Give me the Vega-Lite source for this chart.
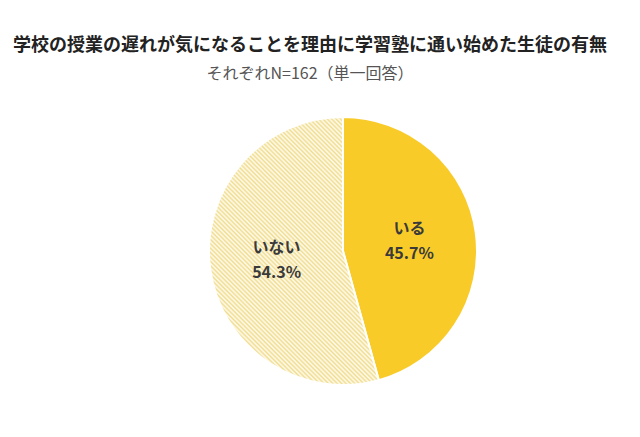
{
  "$schema": "https://vega.github.io/schema/vega-lite/v6.json",
  "autosize": {"type": "none"},
  "width": 594,
  "height": 268,
  "padding": {"left": 46, "top": 117, "right": 0, "bottom": 52},
  "background": "white",
  "config": {"view": {"stroke": null}, "font": "Noto Sans CJK JP"},
  "title": {
    "text": "学校の授業の遅れが気になることを理由に学習塾に通い始めた生徒の有無",
    "subtitle": "それぞれN=162（単一回答）",
    "anchor": "middle",
    "dx": -33,
    "offset": 31,
    "font": "Noto Sans CJK JP",
    "fontSize": 18,
    "fontWeight": "bold",
    "color": "#222222",
    "subtitleFont": "Noto Sans CJK JP",
    "subtitleFontSize": 16,
    "subtitleFontWeight": "normal",
    "subtitleColor": "#555555",
    "subtitlePadding": 11
  },
  "data": {
    "values": [
      {"cat": "いる", "value": 0.457},
      {"cat": "いない", "value": 0.543}
    ]
  },
  "encoding": {
    "theta": {"field": "value", "type": "quantitative", "stack": true},
    "order": {"field": "value", "type": "quantitative", "sort": "ascending"}
  },
  "layer": [
    {
      "mark": {"type": "arc", "outerRadius": 134, "stroke": "white", "strokeWidth": 2},
      "encoding": {
        "fill": {
          "condition": {"test": "datum.cat === 'いる'", "value": "#F9CB29"},
          "value": {
            "gradient": "linear",
            "x1": 0, "y1": 1, "x2": 0.74, "y2": -0.17,
            "stops": [
{"offset":0,"color":"#FFFCF0"},{"offset":0.005,"color":"#F0DC8E"},{"offset":0.01,"color":"#FFFCF0"},{"offset":0.015,"color":"#F0DC8E"},{"offset":0.02,"color":"#FFFCF0"},{"offset":0.025,"color":"#F0DC8E"},{"offset":0.03,"color":"#FFFCF0"},{"offset":0.035,"color":"#F0DC8E"},{"offset":0.04,"color":"#FFFCF0"},{"offset":0.045,"color":"#F0DC8E"},
{"offset":0.05,"color":"#FFFCF0"},{"offset":0.055,"color":"#F0DC8E"},{"offset":0.06,"color":"#FFFCF0"},{"offset":0.065,"color":"#F0DC8E"},{"offset":0.07,"color":"#FFFCF0"},{"offset":0.075,"color":"#F0DC8E"},{"offset":0.08,"color":"#FFFCF0"},{"offset":0.085,"color":"#F0DC8E"},{"offset":0.09,"color":"#FFFCF0"},{"offset":0.095,"color":"#F0DC8E"},
{"offset":0.1,"color":"#FFFCF0"},{"offset":0.105,"color":"#F0DC8E"},{"offset":0.11,"color":"#FFFCF0"},{"offset":0.115,"color":"#F0DC8E"},{"offset":0.12,"color":"#FFFCF0"},{"offset":0.125,"color":"#F0DC8E"},{"offset":0.13,"color":"#FFFCF0"},{"offset":0.135,"color":"#F0DC8E"},{"offset":0.14,"color":"#FFFCF0"},{"offset":0.145,"color":"#F0DC8E"},
{"offset":0.15,"color":"#FFFCF0"},{"offset":0.155,"color":"#F0DC8E"},{"offset":0.16,"color":"#FFFCF0"},{"offset":0.165,"color":"#F0DC8E"},{"offset":0.17,"color":"#FFFCF0"},{"offset":0.175,"color":"#F0DC8E"},{"offset":0.18,"color":"#FFFCF0"},{"offset":0.185,"color":"#F0DC8E"},{"offset":0.19,"color":"#FFFCF0"},{"offset":0.195,"color":"#F0DC8E"},
{"offset":0.2,"color":"#FFFCF0"},{"offset":0.205,"color":"#F0DC8E"},{"offset":0.21,"color":"#FFFCF0"},{"offset":0.215,"color":"#F0DC8E"},{"offset":0.22,"color":"#FFFCF0"},{"offset":0.225,"color":"#F0DC8E"},{"offset":0.23,"color":"#FFFCF0"},{"offset":0.235,"color":"#F0DC8E"},{"offset":0.24,"color":"#FFFCF0"},{"offset":0.245,"color":"#F0DC8E"},
{"offset":0.25,"color":"#FFFCF0"},{"offset":0.255,"color":"#F0DC8E"},{"offset":0.26,"color":"#FFFCF0"},{"offset":0.265,"color":"#F0DC8E"},{"offset":0.27,"color":"#FFFCF0"},{"offset":0.275,"color":"#F0DC8E"},{"offset":0.28,"color":"#FFFCF0"},{"offset":0.285,"color":"#F0DC8E"},{"offset":0.29,"color":"#FFFCF0"},{"offset":0.295,"color":"#F0DC8E"},
{"offset":0.3,"color":"#FFFCF0"},{"offset":0.305,"color":"#F0DC8E"},{"offset":0.31,"color":"#FFFCF0"},{"offset":0.315,"color":"#F0DC8E"},{"offset":0.32,"color":"#FFFCF0"},{"offset":0.325,"color":"#F0DC8E"},{"offset":0.33,"color":"#FFFCF0"},{"offset":0.335,"color":"#F0DC8E"},{"offset":0.34,"color":"#FFFCF0"},{"offset":0.345,"color":"#F0DC8E"},
{"offset":0.35,"color":"#FFFCF0"},{"offset":0.355,"color":"#F0DC8E"},{"offset":0.36,"color":"#FFFCF0"},{"offset":0.365,"color":"#F0DC8E"},{"offset":0.37,"color":"#FFFCF0"},{"offset":0.375,"color":"#F0DC8E"},{"offset":0.38,"color":"#FFFCF0"},{"offset":0.385,"color":"#F0DC8E"},{"offset":0.39,"color":"#FFFCF0"},{"offset":0.395,"color":"#F0DC8E"},
{"offset":0.4,"color":"#FFFCF0"},{"offset":0.405,"color":"#F0DC8E"},{"offset":0.41,"color":"#FFFCF0"},{"offset":0.415,"color":"#F0DC8E"},{"offset":0.42,"color":"#FFFCF0"},{"offset":0.425,"color":"#F0DC8E"},{"offset":0.43,"color":"#FFFCF0"},{"offset":0.435,"color":"#F0DC8E"},{"offset":0.44,"color":"#FFFCF0"},{"offset":0.445,"color":"#F0DC8E"},
{"offset":0.45,"color":"#FFFCF0"},{"offset":0.455,"color":"#F0DC8E"},{"offset":0.46,"color":"#FFFCF0"},{"offset":0.465,"color":"#F0DC8E"},{"offset":0.47,"color":"#FFFCF0"},{"offset":0.475,"color":"#F0DC8E"},{"offset":0.48,"color":"#FFFCF0"},{"offset":0.485,"color":"#F0DC8E"},{"offset":0.49,"color":"#FFFCF0"},{"offset":0.495,"color":"#F0DC8E"},
{"offset":0.5,"color":"#FFFCF0"},{"offset":0.505,"color":"#F0DC8E"},{"offset":0.51,"color":"#FFFCF0"},{"offset":0.515,"color":"#F0DC8E"},{"offset":0.52,"color":"#FFFCF0"},{"offset":0.525,"color":"#F0DC8E"},{"offset":0.53,"color":"#FFFCF0"},{"offset":0.535,"color":"#F0DC8E"},{"offset":0.54,"color":"#FFFCF0"},{"offset":0.545,"color":"#F0DC8E"},
{"offset":0.55,"color":"#FFFCF0"},{"offset":0.555,"color":"#F0DC8E"},{"offset":0.56,"color":"#FFFCF0"},{"offset":0.565,"color":"#F0DC8E"},{"offset":0.57,"color":"#FFFCF0"},{"offset":0.575,"color":"#F0DC8E"},{"offset":0.58,"color":"#FFFCF0"},{"offset":0.585,"color":"#F0DC8E"},{"offset":0.59,"color":"#FFFCF0"},{"offset":0.595,"color":"#F0DC8E"},
{"offset":0.6,"color":"#FFFCF0"},{"offset":0.605,"color":"#F0DC8E"},{"offset":0.61,"color":"#FFFCF0"},{"offset":0.615,"color":"#F0DC8E"},{"offset":0.62,"color":"#FFFCF0"},{"offset":0.625,"color":"#F0DC8E"},{"offset":0.63,"color":"#FFFCF0"},{"offset":0.635,"color":"#F0DC8E"},{"offset":0.64,"color":"#FFFCF0"},{"offset":0.645,"color":"#F0DC8E"},
{"offset":0.65,"color":"#FFFCF0"},{"offset":0.655,"color":"#F0DC8E"},{"offset":0.66,"color":"#FFFCF0"},{"offset":0.665,"color":"#F0DC8E"},{"offset":0.67,"color":"#FFFCF0"},{"offset":0.675,"color":"#F0DC8E"},{"offset":0.68,"color":"#FFFCF0"},{"offset":0.685,"color":"#F0DC8E"},{"offset":0.69,"color":"#FFFCF0"},{"offset":0.695,"color":"#F0DC8E"},
{"offset":0.7,"color":"#FFFCF0"},{"offset":0.705,"color":"#F0DC8E"},{"offset":0.71,"color":"#FFFCF0"},{"offset":0.715,"color":"#F0DC8E"},{"offset":0.72,"color":"#FFFCF0"},{"offset":0.725,"color":"#F0DC8E"},{"offset":0.73,"color":"#FFFCF0"},{"offset":0.735,"color":"#F0DC8E"},{"offset":0.74,"color":"#FFFCF0"},{"offset":0.745,"color":"#F0DC8E"},
{"offset":0.75,"color":"#FFFCF0"},{"offset":0.755,"color":"#F0DC8E"},{"offset":0.76,"color":"#FFFCF0"},{"offset":0.765,"color":"#F0DC8E"},{"offset":0.77,"color":"#FFFCF0"},{"offset":0.775,"color":"#F0DC8E"},{"offset":0.78,"color":"#FFFCF0"},{"offset":0.785,"color":"#F0DC8E"},{"offset":0.79,"color":"#FFFCF0"},{"offset":0.795,"color":"#F0DC8E"},
{"offset":0.8,"color":"#FFFCF0"},{"offset":0.805,"color":"#F0DC8E"},{"offset":0.81,"color":"#FFFCF0"},{"offset":0.815,"color":"#F0DC8E"},{"offset":0.82,"color":"#FFFCF0"},{"offset":0.825,"color":"#F0DC8E"},{"offset":0.83,"color":"#FFFCF0"},{"offset":0.835,"color":"#F0DC8E"},{"offset":0.84,"color":"#FFFCF0"},{"offset":0.845,"color":"#F0DC8E"},
{"offset":0.85,"color":"#FFFCF0"},{"offset":0.855,"color":"#F0DC8E"},{"offset":0.86,"color":"#FFFCF0"},{"offset":0.865,"color":"#F0DC8E"},{"offset":0.87,"color":"#FFFCF0"},{"offset":0.875,"color":"#F0DC8E"},{"offset":0.88,"color":"#FFFCF0"},{"offset":0.885,"color":"#F0DC8E"},{"offset":0.89,"color":"#FFFCF0"},{"offset":0.895,"color":"#F0DC8E"},
{"offset":0.9,"color":"#FFFCF0"},{"offset":0.905,"color":"#F0DC8E"},{"offset":0.91,"color":"#FFFCF0"},{"offset":0.915,"color":"#F0DC8E"},{"offset":0.92,"color":"#FFFCF0"},{"offset":0.925,"color":"#F0DC8E"},{"offset":0.93,"color":"#FFFCF0"},{"offset":0.935,"color":"#F0DC8E"},{"offset":0.94,"color":"#FFFCF0"},{"offset":0.945,"color":"#F0DC8E"},
{"offset":0.95,"color":"#FFFCF0"},{"offset":0.955,"color":"#F0DC8E"},{"offset":0.96,"color":"#FFFCF0"},{"offset":0.965,"color":"#F0DC8E"},{"offset":0.97,"color":"#FFFCF0"},{"offset":0.975,"color":"#F0DC8E"},{"offset":0.98,"color":"#FFFCF0"},{"offset":0.985,"color":"#F0DC8E"},{"offset":0.99,"color":"#FFFCF0"},{"offset":0.995,"color":"#F0DC8E"},
{"offset":1,"color":"#FFFCF0"}
            ]
          }
        }
      }
    },
    {
      "mark": {"type": "text", "radius": 67, "dy": -12.5, "font": "Noto Sans CJK JP", "fontSize": 16, "fontWeight": "bold", "color": "#3A3A3A"},
      "encoding": {"text": {"field": "cat", "type": "nominal"}}
    },
    {
      "mark": {"type": "text", "radius": 67, "dy": 12.5, "font": "Noto Sans CJK JP", "fontSize": 16, "fontWeight": "bold", "color": "#3A3A3A"},
      "encoding": {"text": {"field": "value", "type": "quantitative", "format": ".1%"}}
    }
  ]
}
